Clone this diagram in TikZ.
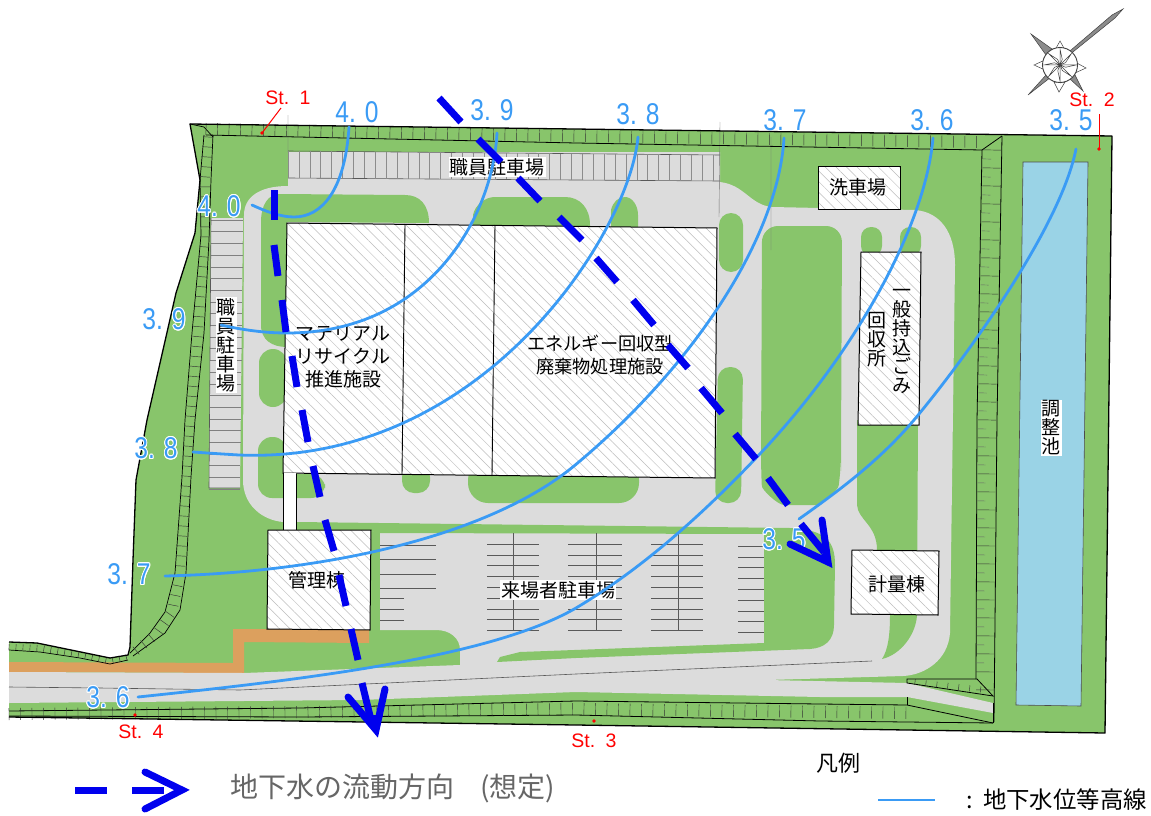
\documentclass[tikz,border=0pt]{standalone}
\usepackage{fontspec}
\usepackage{contour}
\contourlength{1.1pt}
\setmainfont{Noto Sans CJK JP}
\newfontfamily\numfont{Liberation Sans}
\usetikzlibrary{decorations.pathreplacing,patterns.meta}
\definecolor{sitegreen}{HTML}{88C56B}
\definecolor{roadgray}{HTML}{DCDCDC}
\definecolor{walkorange}{HTML}{DCA05E}
\definecolor{pondblue}{HTML}{9AD3E6}
\definecolor{contourblue}{HTML}{3A9BF5}
\definecolor{flowblue}{HTML}{0000EE}
\definecolor{legendgray}{HTML}{666666}
\definecolor{hatchgray}{HTML}{BDBDBD}
\tikzset{
  greenpatch/.style={fill=sitegreen,draw=none},
  roundpatch/.style={greenpatch,rounded corners=12pt},
  building/.style={draw=black,line width=1pt,preaction={fill=white},pattern={Lines[angle=-45,distance=7.5pt,line width=.5pt]},pattern color=hatchgray},
  parkline/.style={draw=black!65,line width=.6pt},
  wallline/.style={draw=black,line width=.8pt},
  walltick/.style={draw=black!80,line width=.45pt,decorate},
  contourline/.style={draw=contourblue,line width=2.8pt,line cap=round},
  flowdash/.style={draw=flowblue,line width=7pt},
  flowhead/.style={draw=flowblue,line width=7pt,line cap=round,line join=miter},
  jplabel/.style={font=\fontsize{19}{22}\selectfont,align=center,inner sep=1pt,text=black},
  jpbox/.style={jplabel,fill=white},
  levellabel/.style={font=\fontsize{30}{30}\numfont,text=contourblue,inner sep=0pt},
  stlabel/.style={font=\fontsize{19.5}{20}\numfont,text=red,inner sep=0pt},
  stleader/.style={draw=red,line width=1pt},
  stdot/.style={fill=red,draw=none},
  thinmark/.style={draw=black!55,line width=.4pt},
  compassline/.style={draw=black!75,line width=.5pt,fill=white},
  compassfill/.style={draw=black!75,line width=.5pt,fill=black!45}
}
\begin{document}
\begin{tikzpicture}[x=1pt,y=-1pt]
\useasboundingbox (0,0) rectangle (1151,816);
\fill[white] (0,0) rectangle (1151,816);
% site
\fill[sitegreen] (190,124)--(1112,136)--(1105,733)--(576,725)--(9,717)--(9,642)--(37,643)--(110,658)--(128,655)--(130,647)--(133,560)--(136,480)--(147,420)--(176,293)--(195,233)--(200,180)--cycle;
% orange walkway
\fill[walkorange] (9,662)--(233,663)--(233,629)--(369,629)--(369,643)--(244,642)--(244,673)--(9,672)--cycle;
% roads
\fill[roadgray] (244,215) .. controls (244,198) and (258,186) .. (288,186) -- (288,152)--(720,152)--(720,182) .. controls (745,185) and (750,205) .. (772,207) -- (915,210) .. controls (940,212) and (955,232) .. (955,265) -- (950,633) .. controls (948,660) and (925,675) .. (903,676)--(767,680)--(907,683)--(993,703)--(993,713)--(907,697)--(820,697)--(576,692)--(360,700)--(9,703)--(9,672)--(244,673)--(460,665)--(460,650) .. controls (460,638) and (450,630) .. (436,630)--(380,630)--(380,532)--(297,523)--(283,522) .. controls (262,520) and (243,505) .. (243,480)--cycle;
\fill[greenpatch] (297,522)--(790,528) .. controls (825,530) and (835,540) .. (835,565)--(834,625) .. controls (834,640) and (825,648) .. (810,649)--(576,658)--(497,662)--(500,657)--(520,652)--(764,643)--(764,534)--(380,533)--(370,531)--(297,530)--cycle;
% islands
\fill[greenpatch] (261,325) .. controls (261,340) and (272,347) .. (287,347) -- (287,222) -- (429,223) .. controls (429,205) and (420,195) .. (405,195) -- (280,194) .. controls (268,194) and (261,205) .. (261,222) -- cycle;
\fill[greenpatch,rounded corners=14pt] (259,349)--(287,349)--(287,407)--(259,407)--cycle;
\fill[greenpatch,rounded corners=14pt] (258,437)--(287,437)--(287,474)--(325,474)--(325,498)--(258,498)--cycle;
\fill[roundpatch] (402,465)--(430,465)--(430,493)--(402,493)--cycle;
\fill[greenpatch,rounded corners=20pt] (468,460)--(639,460)--(639,503)--(468,503)--cycle;
\fill[greenpatch] (473,232)--(473,215) .. controls (475,205) and (485,197) .. (495,197)--(565,197) .. controls (580,197) and (590,208) .. (590,225) -- (590,232)--cycle;
\fill[greenpatch] (611,232)--(611,210) .. controls (613,202) and (618,197) .. (625,197) .. controls (632,197) and (638,205) .. (638,215) -- (638,232)--cycle;
\fill[roundpatch] (719,213)--(743,213)--(743,272)--(719,272)--cycle;
\fill[roundpatch] (718,367)--(743,367)--(741,503)--(715,503)--cycle;
\fill[greenpatch,rounded corners=16pt] (762,226)--(842,226)--(841,455)--(841,470) .. controls (838,490) and (822,505) .. (800,505) .. controls (778,505) and (762,490) .. (761,470)--cycle;
\fill[greenpatch,rounded corners=10pt] (861,256)--(861,227)--(882,227)--(882,256)--cycle;
\fill[greenpatch,rounded corners=10pt] (900,256)--(900,227)--(921,227)--(921,256)--cycle;
\fill[greenpatch] (857,420)--(918,420)--(917,615) .. controls (916,635) and (900,655) .. (882,659) .. controls (888,650) and (890,635) .. (890,615)--(890,560)--(877,550) .. controls (877,525) and (858,520) .. (857,505)--cycle;
% pond
\filldraw[fill=pondblue,draw=black!70,line width=.6pt] (1023,162)--(1088,162)--(1081,706)--(1016,705)--cycle;
% parking top
\draw[parkline] (288,151)--(720,155) (288,178)--(720,181);
\foreach \i in {0,...,39} \draw[parkline,draw=black!45] ({288+\i*10.9},{151+\i*.1})--({288+\i*10.9},{178+\i*.07});
% parking left
\fill[roadgray] (211,218)--(243,218)--(240,488)--(209,488)--cycle;
\foreach \i in {0,...,23} \draw[parkline,draw=black!50] ({211-\i*.09},{220+\i*11.7})--({243-\i*.12},{220+\i*11.7});
\draw[parkline] (211,218)--(209,488)--(240,488);
% visitor parking
\foreach \y in {545,559,574,588} \draw[parkline] (380,\y)--(436,\y);
\foreach \y in {598,609,620} \draw[parkline] (380,\y)--(404,\y);
\foreach \xa/\xb/\xc in {487/539/513,568/622/596,651/703/678}{
  \foreach \i in {0,...,8} \draw[parkline] (\xa,{544+\i*10.8})--(\xb,{544+\i*10.8});
  \draw[parkline] (\xc,533)--(\xc,631);
}
\foreach \i in {0,...,8} \draw[parkline] (738,{546+\i*10.8})--(764,{546+\i*10.8});
% road centre line etc
\draw[parkline] (9,687)--(100,688)--(240,690)--(576,674)--(872,661);
\draw[thinmark] (288,115)--(288,152) (720,122)--(719,217) (771,137)--(771,250);
% walls
\draw[wallline] (206,135)--(576,143)--(982,150);
\draw[walltick,decoration={ticks,segment length=11.5pt,amplitude=6pt}] (206,129)--(576,136)--(982,142);
\draw[wallline] (982,150)--(1002,136);
\draw[wallline] (982,150)--(977,420)--(976,679);
\draw[wallline] (1002,136)--(997,420)--(994,722);
\draw[walltick,decoration={ticks,segment length=18pt,amplitude=9pt}] (992,150)--(987,420)--(985,690);
\draw[walltick,decoration={ticks,segment length=18pt,amplitude=4pt},draw=black!60] (987,159)--(982,429)--(980,680);
\draw[wallline,line width=.7pt] (190,124)--(204,127)--(213,137);
\draw[wallline,line width=.7pt] (204,135) -- (200,180)--(201,235)--(192,333)--(185,420)--(182,477)--(175,573)--(165,612)--(150,633)--(130,653);
\draw[wallline,line width=.7pt] (213,135) -- (211,180)--(209,240)--(204,333)--(195,420)--(191,477)--(186,573)--(180,610)--(165,633)--(133,656);
\draw[walltick,decoration={ticks,segment length=10pt,amplitude=5pt}] (208,137)--(205,180)--(205,238)--(198,333)--(190,420)--(186,477)--(180,573)--(172,612)--(157,633)--(132,654);
\draw[wallline,line width=.7pt] (9,650)--(40,652)--(80,658)--(110,664)--(128,660);
\draw[walltick,decoration={ticks,segment length=7pt,amplitude=3pt}] (9,647)--(40,648)--(80,655)--(110,661)--(128,657);
\draw[wallline,line width=.8pt] (9,711)--(300,708)--(576,701)--(820,704)--(907,705)--(993,723);
\draw[wallline,line width=.8pt] (9,716)--(300,717)--(576,715)--(820,721)--(993,723);
\draw[walltick,decoration={ticks,segment length=11.5pt,amplitude=6pt}] (9,714)--(300,712)--(576,709)--(907,713);
\draw[wallline] (907,679)--(977,679)--(993,696)--(907,683)--cycle;
\draw[walltick,decoration={ticks,segment length=11pt,amplitude=3pt}] (915,682)--(985,690);
\draw[wallline] (907,697)--(907,705) (993,703)--(993,723);
% outline
\draw[draw=black,line width=1.3pt,line join=round] (9,717)--(576,725)--(1105,733)--(1112,136)--(190,124)--(200,180)--(195,233)--(176,293)--(147,420)--(136,480)--(133,560)--(130,647)--(128,655)--(110,658)--(37,643)--(9,642);
% buildings
\path[building] (283,473)--(287,223)--(717,228)--(715,478)--cycle;
\draw[draw=black,line width=.9pt] (405,224)--(402,475) (495,225)--(492,476);
\fill[white] (283,473) rectangle (296,530);
\draw[draw=black,line width=.9pt] (283,473)--(283,530) (296,474)--(296,530);
\path[building] (818,166) rectangle (900,209);
\path[building] (861,252)--(921,252)--(919,425)--(858,425)--cycle;
\path[building] (268,530)--(371,530)--(370,630)--(267,629)--cycle;
\path[building] (852,550)--(939,551)--(938,615)--(851,614)--cycle;
% texts
\node[jpbox] (lblparktop) at (497,167) {職員駐車場};
\node[jpbox] (lblparkleft) at (226,345) {職\\[-3pt]員\\[-3pt]駐\\[-3pt]車\\[-3pt]場};
\node[jplabel] (lblmat) at (343,357) {マテリアル\\[1pt]リサイクル\\[1pt]推進施設};
\node[jplabel,font=\fontsize{18.2}{22}\selectfont] (lblene) at (600,355) {エネルギー回収型\\[1pt]廃棄物処理施設};
\node[jplabel] (lblwash) at (858,187) {洗車場};
\node[jplabel] (lblgen) at (902,341) {一\\[-3pt]般\\[-3pt]持\\[-3pt]込\\[-3pt]ご\\[-3pt]み};
\node[jplabel] (lblcol) at (877,340) {回\\[-3pt]収\\[-3pt]所};
\node[jplabel] (lbladmin) at (317,580) {管理棟};
\node[jplabel] (lblweigh) at (897,584) {計量棟};
\node[jpbox] (lblvisit) at (558,590) {来場者駐車場};
\node[jpbox] (lblpond) at (1051,428) {調\\[-3pt]整\\[-3pt]池};
\node[font=\fontsize{22}{24}\selectfont,inner sep=0pt] (lbllegend) at (838,763) {凡例};
\node[font=\fontsize{28}{30}\selectfont,text=legendgray,inner sep=0pt,anchor=west] (lblflow) at (230,788) {地下水の流動方向\hspace{26pt}(想定)};
\node[font=\fontsize{23.4}{25}\selectfont,inner sep=0pt,anchor=east] (lblcontour) at (1147,800) {:\hspace{10pt}地下水位等高線};
% St labels
\node[stlabel] (st1) at (288,98) {St. \,1};
\node[stlabel] (st2) at (1092,100) {St. \,2};
\node[stlabel] (st3) at (594,741) {St. \,3};
\node[stlabel] (st4) at (141,732) {St. \,4};
\coordinate (st1p) at (262,133);
\coordinate (st2p) at (1099,149);
\coordinate (st3p) at (594,721);
\coordinate (st4p) at (135,715);
\draw[stleader] (281,108)--(st1p);
\draw[stleader] (1099,114)--(st2p);
\foreach \p in {st1p,st2p,st3p,st4p} \fill[stdot] (\p) circle (1.8);
% compass
\begin{scope}[shift={(1060,65)}]
 \draw[compassfill] (3,-5)--(55,-47)--(63,-56)--(52,-50)--(-3,-3)--(5,3)--cycle;
 \draw[compassfill] (-5,0)--(-32,30)--(0,5)--cycle;
 \draw[compassfill] (-14,-10)--(-29,-31)--(-8,-16)--cycle;
 \draw[compassfill] (10,14)--(23,26)--(14,8)--cycle;
 \draw[compassline] (-5,-15)--(0,-24)--(5,-15)--cycle;
 \draw[compassline] (-15,-5)--(-26,0)--(-15,5)--cycle;
 \draw[compassline] (15,-3)--(26,3)--(15,8)--cycle;
 \draw[compassline] (-6,17)--(-1,27)--(5,17)--cycle;
 \draw[compassline,line width=.9pt] (0,0) circle (17.5);
 \foreach \a in {0,45,...,315} \draw[compassline] (0,0)--(\a:16)--(\a+22:6)--cycle;
\end{scope}
% level labels
\foreach \n/\t/\px/\py in {a/4. 0/357/112,b/3. 9/492/110,c/3. 8/638/114,d/3. 7/785/120,e/3. 6/932/120,f/3. 5/1071/120}
  \node[levellabel] (lv\n) at (\px,\py) {\scalebox{.82}[1]{\t}};
\foreach \n/\t/\px/\py in {g/4. 0/219/207,h/3. 9/164/320,i/3. 8/156/449,j/3. 7/129/575,k/3. 6/108/698,l/3. 5/784/540}
  \node[levellabel] (lv\n) at (\px,\py) {\scalebox{.82}[1]{\contour{white}{\t}}};
% contours
\draw[contourline] (349,127) .. controls (345,190) and (322,217) .. (294,217) .. controls (280,217) and (265,211) .. (252,205);
\draw[contourline] (497,133) .. controls (493,215) and (430,333) .. (287,333) .. controls (265,333) and (243,330) .. (221,325);
\draw[contourline] (638,137) .. controls (630,230) and (485,465) .. (239,455) .. controls (222,454) and (207,453) .. (193,452);
\draw[contourline] (784,138) .. controls (778,240) and (690,370) .. (574,466) .. controls (490,535) and (330,572) .. (165,576);
\draw[contourline] (933,138) .. controls (925,230) and (850,360) .. (756,458) .. controls (700,517) and (640,570) .. (576,608) .. controls (490,658) and (300,680) .. (138,697);
\draw[contourline] (1076,149) .. controls (1060,230) and (960,365) .. (914,420) .. controls (880,460) and (840,490) .. (799,519);
% flow arrows
\foreach \ax/\ay/\bx/\by in {274/190/274/220,274/245/278/276,282/300/286/332,292/356/297/387,302/410/308/442,313/466/320/497,325/520/334/551,339/575/346/606,351/629/358/660,362/683/371/720,
439/98/461/122,478/139/501/162,518/178/540/201,559/217/582/240,596/258/617/282,633/300/654/325,668/345/688/368,701/388/722/413,735/434/756/459,768/478/788/505,801/524/824/552}
  \draw[flowdash] (\ax,\ay)--(\bx,\by);
\draw[flowhead] (348,697)--(376,730)--(385,689);
\fill[flowblue] (376,735)--(369,715)--(383,715)--cycle;
\draw[flowhead] (790,544)--(828,562)--(822,520);
\fill[flowblue] (832,567)--(817,560)--(826,549)--cycle;
% legend
\draw[flowdash] (75,790)--(107,790);
\draw[flowdash] (132,790)--(164,790);
\draw[flowhead] (145,772)--(182,790)--(145,809);
\draw[contourline,line cap=butt] (878,800)--(935,800);
\end{tikzpicture}
\end{document}
